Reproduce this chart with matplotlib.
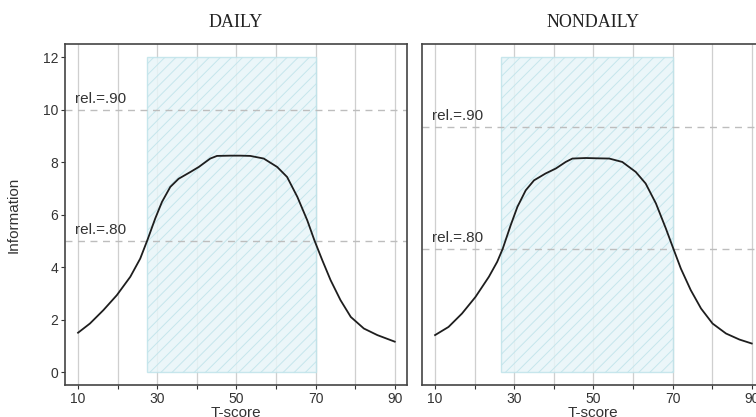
import matplotlib.pyplot as plt
from matplotlib.patches import Rectangle

# information curves (T-score, information)
daily_t = [10, 13, 16.4, 19.8, 23.2, 25.7, 27.5, 29.5, 31.2, 33.3, 35.4, 38.4, 40.5, 43.4, 45.1,
           48.5, 51.0, 53.5, 56.9, 60.3, 62.8, 65.4, 67.9, 69.7, 71.7, 73.8, 76.3, 78.9, 82.2,
           85.6, 90]
daily_info = [1.51, 1.86, 2.37, 2.94, 3.64, 4.33, 5.03, 5.86, 6.49, 7.06, 7.37, 7.63, 7.82, 8.14,
              8.24, 8.25, 8.25, 8.24, 8.14, 7.82, 7.44, 6.68, 5.79, 5.03, 4.27, 3.51, 2.75, 2.11,
              1.67, 1.42, 1.17]
nondaily_t = [10, 13.4, 16.8, 20.2, 23.6, 25.7, 27.1, 29.1, 30.8, 32.9, 35.0, 37.9, 40.5, 43.0,
              44.7, 48.1, 50.6, 54.0, 57.3, 60.7, 63.2, 65.8, 68.3, 70.2, 72.1, 74.6, 77.2, 80.1,
              83.5, 86.9, 90]
nondaily_info = [1.42, 1.73, 2.24, 2.87, 3.64, 4.21, 4.71, 5.60, 6.30, 6.93, 7.31, 7.57, 7.76,
                 8.01, 8.14, 8.16, 8.15, 8.14, 8.01, 7.63, 7.19, 6.43, 5.48, 4.71, 3.95, 3.13,
                 2.43, 1.86, 1.48, 1.25, 1.10]

panels = ["DAILY", "NONDAILY"]
curve_t = [daily_t, nondaily_t]
curve_info = [daily_info, nondaily_info]
rel90 = [10.0, 9.33]
rel80 = [5.0, 4.68]
band_lo = [27.4, 26.7]
band_hi = [70.0, 70.0]

plt.rcParams['font.family'] = ['Liberation Sans', 'DejaVu Sans']
plt.rcParams['hatch.color'] = '#a3d4df'
plt.rcParams['hatch.linewidth'] = 0.7

fig = plt.figure(figsize=(7.56, 4.17), dpi=100)
lefts = [65 / 756, 422 / 756]
axes = []
for i, name in enumerate(panels):
    ax = fig.add_axes([lefts[i], 32 / 417, 342 / 756, 341 / 417])
    axes.append(ax)
    ax.set_xlim(6.7, 93.1)
    ax.set_ylim(-0.48, 12.5)

    # vertical grid
    for g in range(10, 91, 10):
        ax.axvline(g, color='#cfcfcf', lw=0.9, zorder=0)

    # shaded T-score band
    rect = Rectangle((band_lo[i], 0), band_hi[i] - band_lo[i], 12,
                     facecolor='#e8f5f8', edgecolor='#bfe3ea', hatch='///', lw=1.0, zorder=1, alpha=0.85)
    ax.add_patch(rect)

    ax.axhline(rel90[i], color='#bdbdbd', lw=1.0, ls=(0, (5, 4)), zorder=2)
    ax.axhline(rel80[i], color='#bdbdbd', lw=1.0, ls=(0, (5, 4)), zorder=2)
    ax.text(9.3, rel90[i] + 0.15, "rel.=.90", fontsize=11, color='#333333', va='bottom')
    ax.text(9.3, rel80[i] + 0.15, "rel.=.80", fontsize=11, color='#333333', va='bottom')

    ax.plot(curve_t[i], curve_info[i], color='#1e1e1e', lw=1.3, zorder=3,
            solid_joinstyle='round')

    ax.set_xticks([10, 30, 50, 70, 90])
    ax.set_xticks([20, 40, 60, 80], minor=True)
    ax.set_yticks(range(0, 13, 2))
    ax.tick_params(which='both', direction='out', length=3, width=0.8, colors='#333333',
                   labelsize=10, pad=2)
    if i == 1:
        ax.tick_params(axis='y', left=False, labelleft=False)
    for s in ax.spines.values():
        s.set_color('#444444')
        s.set_linewidth(1.2)

    ax.set_xlabel("T-score", fontsize=11, color='#333333', labelpad=0)
    ax.set_title(name, fontsize=13, family='Liberation Serif', color='#222222', pad=12)

axes[0].set_ylabel("Information", fontsize=11, color='#333333', labelpad=16)

fig.savefig('out.png', dpi=100)
